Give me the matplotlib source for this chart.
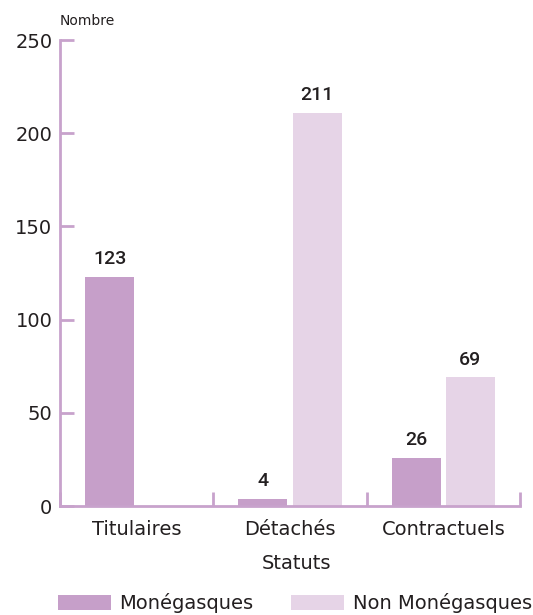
import matplotlib
matplotlib.use("Agg")
import matplotlib.pyplot as plt
import numpy as np

# data
categories = ["Titulaires", "Détachés", "Contractuels"]
monegasques = [123, 4, 26]
non_monegasques = [0, 211, 69]
series_names = ["Monégasques", "Non Monégasques"]

c_mon = "#c69fc9"
c_non = "#e6d4e7"
c_axis = "#c8a2cc"
txt = "#231f20"

plt.rcParams['font.family'] = ['DejaVu Sans']

fig = plt.figure(figsize=(5.33, 6.15), dpi=100)
ax = fig.add_axes([60/533, 1 - 506/615, 460/533, 466/615])

x = np.arange(len(categories)) + 0.5
w = 0.32
off = 0.177
b1 = ax.bar(x - off, monegasques, w, color=c_mon, label=series_names[0])
b2 = ax.bar(x + off, non_monegasques, w, color=c_non, label=series_names[1])

# value labels (no label for empty bar)
for bars, vals in [(b1, monegasques), (b2, non_monegasques)]:
    for r, v in zip(bars, vals):
        if v == 0:
            continue
        ax.annotate(str(v), (r.get_x() + r.get_width()/2, v), xytext=(0, 6),
                    textcoords="offset points", ha="center", va="bottom",
                    fontsize=14, fontweight="medium", color=txt,
                    family=["Roboto", "DejaVu Sans"])

ax.set_xlim(0, 3)
ax.set_ylim(0, 250)
ax.set_yticks([0, 50, 100, 150, 200, 250])
ax.set_xticks([0, 1, 2, 3])
ax.set_xticklabels([])
ax.set_xticks(x, minor=True)
ax.set_xticklabels(categories, minor=True)

for s in ["top", "right"]:
    ax.spines[s].set_visible(False)
for s in ["left", "bottom"]:
    ax.spines[s].set_color(c_axis)
    ax.spines[s].set_linewidth(2)

ax.tick_params(axis="y", direction="in", length=10, width=2, color=c_axis,
               labelsize=14, labelcolor=txt, pad=5.5)
ax.tick_params(axis="x", which="major", direction="in", length=10, width=2, color=c_axis)
ax.tick_params(axis="x", which="minor", length=0, labelsize=14, labelcolor=txt, pad=10)

ax.set_xlabel("Statuts", fontsize=14, color=txt)
ax.xaxis.set_label_coords(0.515, -0.104)
ax.text(0, 1.025, "Nombre", transform=ax.transAxes, fontsize=10, color=txt,
        ha="left", va="bottom")

fig.legend(handles=[b1, b2], labels=series_names, ncol=2, loc="center left",
           bbox_to_anchor=(58/533, 1 - 603/615), frameon=False, fontsize=14,
           handlelength=2.7, handleheight=0.85, handletextpad=0.45,
           columnspacing=1.95, borderpad=0, borderaxespad=0, labelcolor=txt)

fig.savefig("out.png", dpi=100)
